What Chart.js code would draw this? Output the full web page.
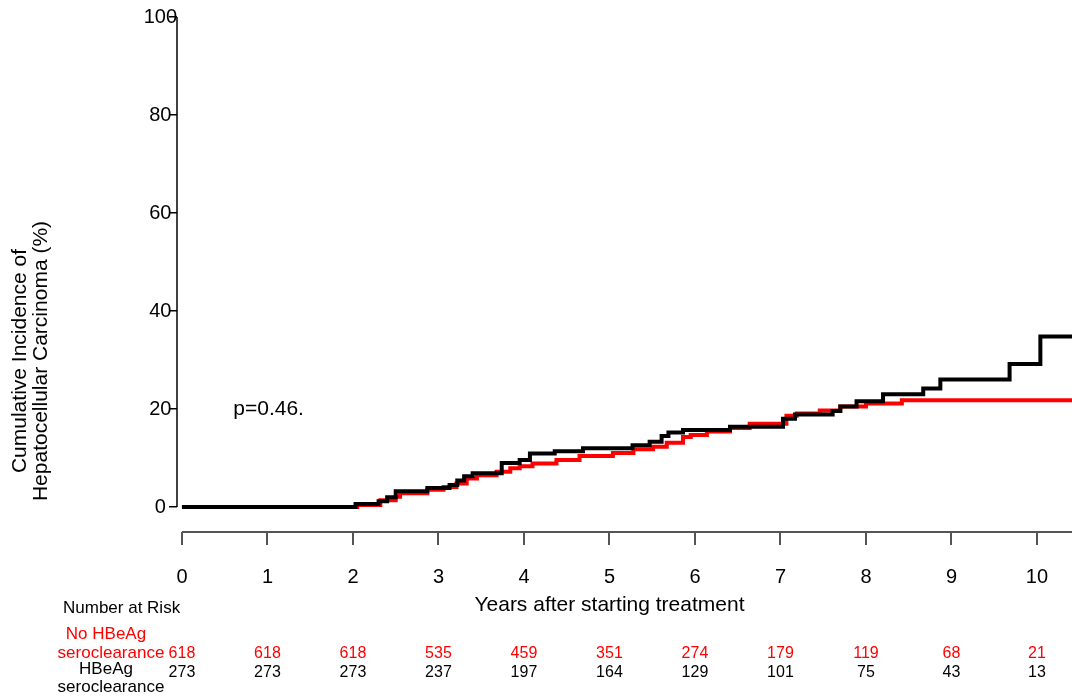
<!DOCTYPE html>
<html>
<head>
<meta charset="utf-8">
<title>Cumulative Incidence of Hepatocellular Carcinoma</title>
<style>
    html, body {
        margin: 0;
        padding: 0;
        background: #fff;
    }
    #wrap {
        width: 1072px;
        height: 698px;
    }
</style>
<script src="https://cdn.jsdelivr.net/npm/chart.js"></script>
</head>
<body>
<div id="wrap"><canvas id="hccChart"></canvas></div>
<script>
    // step times (years) and cumulative incidence (%) from that time on
    var clearTimes  = [0, 2.03, 2.30, 2.40, 2.50, 2.87, 3.13, 3.22, 3.30, 3.40, 3.74, 3.95, 4.07, 4.36, 4.69, 5.27, 5.47, 5.61, 5.69, 5.86, 6.41, 7.03, 7.17, 7.61, 7.70, 7.89, 8.20, 8.67, 8.87, 9.68, 10.04, 10.41];
    var clearValues = [0, 0.6, 1.2, 2.0, 3.2, 3.9, 4.5, 5.4, 6.3, 6.9, 9.0, 9.6, 10.9, 11.4, 12.0, 12.6, 13.3, 14.5, 15.2, 15.7, 16.4, 18.0, 18.9, 19.6, 20.5, 21.6, 23.0, 24.2, 26.0, 29.2, 34.8, 34.8];

    var noClearTimes  = [0, 2.05, 2.32, 2.50, 2.55, 2.87, 3.06, 3.21, 3.33, 3.45, 3.68, 3.84, 3.95, 4.10, 4.38, 4.65, 5.04, 5.28, 5.51, 5.67, 5.86, 5.95, 6.14, 6.41, 6.64, 7.07, 7.19, 7.46, 7.70, 8.00, 8.42, 10.41];
    var noClearValues = [0, 0.4, 1.4, 2.1, 2.8, 3.5, 4.1, 4.8, 5.8, 6.5, 7.2, 7.9, 8.3, 8.9, 9.6, 10.4, 11.0, 11.8, 12.3, 13.1, 14.3, 14.7, 15.4, 16.1, 17.0, 18.6, 19.1, 19.7, 20.5, 21.1, 21.8, 21.8];

    var xTicks = [0, 1, 2, 3, 4, 5, 6, 7, 8, 9, 10];
    var yTicks = [0, 20, 40, 60, 80, 100];

    // numbers at risk, one per year tick
    var riskNoClear = [618, 618, 618, 535, 459, 351, 274, 179, 119, 68, 21];
    var riskClear   = [273, 273, 273, 237, 197, 164, 129, 101, 75, 43, 13];

    var FONT = "'Liberation Sans', Arial, Helvetica, sans-serif";

    function toPoints(times, values) {
        var pts = [];
        for (var i = 0; i < times.length; i++) {
            pts.push({ x: times[i], y: values[i] });
        }
        return pts;
    }

    // axis lines, titles, p value and the risk table
    var extras = {
        id: 'extras',
        afterDraw: function (chart) {
            var ctx = chart.ctx;
            var xs = chart.scales.x;
            var ys = chart.scales.y;
            var area = chart.chartArea;
            ctx.save();

            // y axis only spans 0..100
            ctx.strokeStyle = '#000';
            ctx.lineWidth = 1.5;
            ctx.beginPath();
            ctx.moveTo(area.left, ys.getPixelForValue(0));
            ctx.lineTo(area.left, ys.getPixelForValue(100));
            ctx.stroke();

            // x axis starts at year 0
            ctx.strokeStyle = '#555';
            ctx.lineWidth = 2;
            ctx.beginPath();
            ctx.moveTo(xs.getPixelForValue(0), area.bottom);
            ctx.lineTo(area.right, area.bottom);
            ctx.stroke();

            // y title, two lines rotated
            ctx.fillStyle = '#000';
            ctx.font = '21px ' + FONT;
            ctx.textAlign = 'center';
            ctx.textBaseline = 'middle';
            ctx.save();
            ctx.translate(20, 361);
            ctx.rotate(-Math.PI / 2);
            ctx.fillText('Cumulative Incidence of', 0, 0);
            ctx.fillText('Hepatocellular Carcinoma (%)', 0, 21);
            ctx.restore();

            // x title
            ctx.fillText('Years after starting treatment', xs.getPixelForValue(5), 605);

            // p value
            ctx.textAlign = 'left';
            ctx.fillText('p=0.46.', xs.getPixelForValue(0.6), ys.getPixelForValue(20));

            // risk table
            ctx.textBaseline = 'alphabetic';
            ctx.font = '17px ' + FONT;
            ctx.fillText('Number at Risk', 63, 613);
            ctx.textAlign = 'center';
            ctx.fillStyle = '#ff0000';
            ctx.fillText('No HBeAg', 106, 639);
            ctx.fillText('seroclearance', 111, 658);
            ctx.fillStyle = '#000';
            ctx.fillText('HBeAg', 106, 674);
            ctx.fillText('seroclearance', 111, 692);

            ctx.font = '16px ' + FONT;
            for (var i = 0; i < xTicks.length; i++) {
                var px = xs.getPixelForValue(xTicks[i]);
                ctx.fillStyle = '#ff0000';
                ctx.fillText(String(riskNoClear[i]), px, 658);
                ctx.fillStyle = '#000';
                ctx.fillText(String(riskClear[i]), px, 677);
            }
            ctx.restore();
        }
    };

    var ctx = document.getElementById('hccChart').getContext('2d');
    var hccChart = new Chart(ctx, {
        type: 'line',
        data: {
            datasets: [
                {
                    label: 'HBeAg seroclearance',
                    data: toPoints(clearTimes, clearValues),
                    borderColor: '#000',
                    borderWidth: 4,
                    stepped: true,
                    pointRadius: 0,
                    fill: false
                },
                {
                    label: 'No HBeAg seroclearance',
                    data: toPoints(noClearTimes, noClearValues),
                    borderColor: '#ff0000',
                    borderWidth: 4,
                    stepped: true,
                    pointRadius: 0,
                    fill: false
                }
            ]
        },
        options: {
            responsive: true,
            maintainAspectRatio: false,
            animation: false,
            layout: { padding: { top: 17, right: 0, bottom: 0, left: 0 } },
            plugins: {
                legend: { display: false },
                tooltip: { enabled: false }
            },
            scales: {
                x: {
                    type: 'linear',
                    min: -0.058,
                    max: 10.41,
                    afterBuildTicks: function (scale) {
                        scale.ticks = xTicks.map(function (v) { return { value: v }; });
                    },
                    afterFit: function (scale) { scale.height = 166; },
                    border: { display: false },
                    grid: {
                        drawOnChartArea: false,
                        drawTicks: true,
                        tickLength: 13,
                        color: '#555',
                        lineWidth: 2
                    },
                    ticks: {
                        autoSkip: false,
                        maxRotation: 0,
                        padding: 20,
                        color: '#000',
                        font: { family: FONT, size: 20 }
                    }
                },
                y: {
                    min: -5.1,
                    max: 100,
                    afterBuildTicks: function (scale) {
                        scale.ticks = yTicks.map(function (v) { return { value: v }; });
                    },
                    afterFit: function (scale) { scale.width = 177; },
                    border: { display: false },
                    grid: {
                        drawOnChartArea: false,
                        drawTicks: true,
                        tickLength: 8,
                        color: '#000',
                        lineWidth: 1.5
                    },
                    ticks: {
                        crossAlign: 'center',
                        padding: -8,
                        color: '#000',
                        font: { family: FONT, size: 20 }
                    }
                }
            }
        },
        plugins: [extras]
    });
</script>
</body>
</html>
